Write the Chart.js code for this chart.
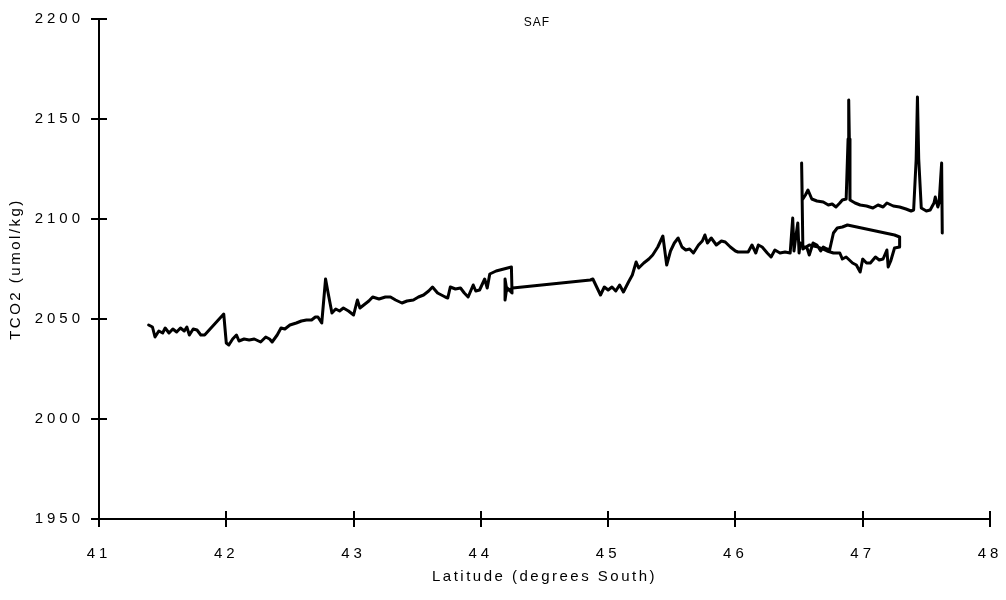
<!DOCTYPE html>
<html>
<head>
<meta charset="utf-8">
<title>TCO2 across the Subantarctic Front</title>
<script src="https://cdn.jsdelivr.net/npm/chart.js@4/dist/chart.umd.min.js"></script>
<style>
  html, body { margin: 0; padding: 0; background: #fff; }
  #wrap { width: 1006px; height: 600px; }
</style>
</head>
<body>
<div id="wrap"><canvas id="chart" width="1006" height="600"></canvas></div>
<script>
// Ship track samples, in the order they were taken
const latitude = [
  41.39, 41.42, 41.44, 41.47, 41.50, 41.52, 41.55, 41.58, 41.61, 41.64,
  41.67, 41.69, 41.71, 41.74, 41.77, 41.80, 41.83, 41.88, 41.93, 41.98,
  42.00, 42.02, 42.05, 42.08, 42.10, 42.14, 42.18, 42.22, 42.27, 42.31,
  42.34, 42.36, 42.40, 42.43, 42.46, 42.50, 42.55, 42.59, 42.63, 42.67,
  42.70, 42.72, 42.75, 42.78, 42.80, 42.83, 42.86, 42.89, 42.92, 42.96,
  43.00, 43.02, 43.03, 43.05, 43.08, 43.12, 43.15, 43.20, 43.25, 43.29,
  43.33, 43.38, 43.42, 43.47, 43.51, 43.55, 43.59, 43.62, 43.66, 43.69,
  43.72, 43.74, 43.76, 43.80, 43.84, 43.87, 43.90, 43.94, 43.96, 43.99,
  44.03, 44.05, 44.07, 44.12, 44.18, 44.24, 44.245, 44.20, 44.19, 44.19,
  44.20, 44.25, 44.86, 44.88, 44.91, 44.94, 44.97, 45.00, 45.03, 45.06,
  45.09, 45.12, 45.16, 45.19, 45.22, 45.24, 45.28, 45.32, 45.35, 45.39,
  45.43, 45.46, 45.49, 45.52, 45.55, 45.58, 45.61, 45.64, 45.67, 45.71,
  45.74, 45.76, 45.78, 45.81, 45.85, 45.89, 45.92, 45.96, 46.00, 46.02,
  46.06, 46.10, 46.13, 46.16, 46.18, 46.21, 46.25, 46.28, 46.31, 46.35,
  46.39, 46.43, 46.45, 46.46, 46.47, 46.49, 46.50, 46.51, 46.53, 46.56,
  46.58, 46.61, 46.64, 46.67, 46.69, 46.72, 46.74, 46.77, 46.80, 46.84,
  46.88, 47.25, 47.29, 47.29, 47.25, 47.22, 47.20, 47.19, 47.16, 47.13,
  47.10, 47.06, 47.03, 47.00, 46.98, 46.95, 46.92, 46.87, 46.84, 46.82,
  46.77, 46.72, 46.65, 46.58, 46.53, 46.52, 46.525, 46.55, 46.57, 46.60,
  46.64, 46.69, 46.73, 46.76, 46.79, 46.82, 46.84, 46.87, 46.885, 46.89,
  46.895, 46.90, 46.94, 46.98, 47.03, 47.08, 47.12, 47.16, 47.19, 47.24,
  47.29, 47.34, 47.38, 47.40, 47.42, 47.43, 47.44, 47.46, 47.50, 47.53,
  47.56, 47.57, 47.59, 47.60, 47.62, 47.625
];
const tco2 = [
  2047, 2046, 2041, 2044, 2043, 2045.5, 2043, 2045, 2043.5, 2045.5,
  2044, 2046, 2042, 2045, 2044.5, 2042, 2042, 2045.5, 2049, 2052.5,
  2038, 2037, 2040, 2042, 2039, 2040, 2039.5, 2040, 2038.5, 2041,
  2040, 2038.5, 2042, 2045.5, 2045, 2047, 2048, 2049, 2049.5, 2049.5,
  2051, 2051, 2048, 2070, 2063, 2053, 2055, 2054, 2055.5, 2054,
  2052, 2057, 2059.5, 2055.5, 2057, 2059, 2061, 2060, 2061, 2061,
  2059.5, 2058, 2059, 2059.5, 2061, 2062, 2064, 2066, 2063, 2062,
  2061, 2060.5, 2066, 2065, 2065.5, 2063, 2061, 2067, 2064, 2064.5,
  2070, 2065.5, 2072.5, 2074, 2075, 2076, 2063, 2066, 2070, 2059.5,
  2064, 2065.5, 2069.5, 2070, 2066, 2062, 2066, 2064.5, 2066, 2064,
  2067, 2063.5, 2068.5, 2072, 2078.5, 2075.5, 2078, 2080, 2082, 2086,
  2091.5, 2077, 2084, 2088, 2090.5, 2086, 2084.5, 2085, 2083, 2087,
  2089, 2092, 2088, 2090.5, 2087, 2089, 2088.5, 2086, 2084, 2083.5,
  2083.5, 2083.5, 2087, 2083, 2087, 2086, 2083, 2081, 2084.5, 2083,
  2083.5, 2083, 2100.5, 2084, 2089, 2098, 2083, 2088, 2086, 2086,
  2082, 2088, 2087, 2084, 2086, 2085, 2084.5, 2093, 2095.5, 2096,
  2097, 2092, 2091, 2086, 2085.5, 2079, 2076, 2084.5, 2080, 2079.5,
  2081, 2078, 2078, 2080, 2073.5, 2077, 2078, 2081, 2080, 2083,
  2083, 2084, 2086, 2087, 2085, 2128, 2109.5, 2112, 2114.5, 2110,
  2109, 2108.5, 2107, 2107.5, 2106, 2108, 2109.5, 2110, 2140, 2159.5,
  2140, 2109.5, 2108, 2107, 2106.5, 2105.5, 2107, 2106, 2108, 2106.5,
  2106, 2105, 2104, 2104.5, 2130, 2161, 2130, 2105.5, 2104, 2104.5,
  2108, 2111, 2106, 2108, 2128, 2093
];

// Axis tick values
const latitudeTicks = [41, 42, 43, 44, 45, 46, 47, 48];
const tco2Ticks = [1950, 2000, 2050, 2100, 2150, 2200];

// Front annotation
const frontLabel = 'SAF';
const frontLatitude = 44.44;
const frontTco2 = 2198;

const points = latitude.map((lat, i) => ({ x: lat, y: tco2[i] }));

const INK = '#000';
const FONT = '"Liberation Sans", Arial, Helvetica, sans-serif';

// Letter spacing: axis titles are drawn with the grid layer, tick labels
// (z = 1) after the datasets, so each gets its own tracking.
const tracking = {
  id: 'tracking',
  beforeDraw(chart) { chart.ctx.letterSpacing = '2.5px'; },
  afterDatasetsDraw(chart) { chart.ctx.letterSpacing = '4px'; },
  afterDraw(chart) { chart.ctx.letterSpacing = '0px'; }
};

// Tick marks that straddle the axis lines, plus the front label
const axisMarks = {
  id: 'axisMarks',
  afterDraw(chart) {
    const { ctx, chartArea, scales: { x, y } } = chart;
    const half = 8;
    ctx.save();
    ctx.strokeStyle = INK;
    ctx.lineWidth = 2;
    ctx.beginPath();
    x.ticks.forEach(t => {
      const px = Math.round(x.getPixelForValue(t.value));
      ctx.moveTo(px, chartArea.bottom - half);
      ctx.lineTo(px, chartArea.bottom + half);
    });
    y.ticks.forEach(t => {
      const py = Math.round(y.getPixelForValue(t.value));
      ctx.moveTo(chartArea.left - half, py);
      ctx.lineTo(chartArea.left + half, py);
    });
    ctx.stroke();

    ctx.fillStyle = INK;
    ctx.font = '12px ' + FONT;
    ctx.letterSpacing = '1px';
    ctx.textAlign = 'center';
    ctx.textBaseline = 'middle';
    ctx.fillText(frontLabel, x.getPixelForValue(frontLatitude), y.getPixelForValue(frontTco2));
    ctx.restore();
  }
};

// Fixed axis box sizes; label overhang must not shrink the plot area
function fixBox(scale, size) {
  if (scale.isHorizontal()) scale.height = size; else scale.width = size;
  scale.paddingLeft = 0;
  scale.paddingRight = 0;
  scale.paddingTop = 0;
  scale.paddingBottom = 0;
}

const plainNumber = v => String(v);

new Chart(document.getElementById('chart'), {
  type: 'line',
  data: {
    datasets: [{
      data: points,
      borderColor: INK,
      borderWidth: 3,
      borderJoinStyle: 'round',
      borderCapStyle: 'round',
      pointRadius: 0,
      tension: 0,
      fill: false
    }]
  },
  options: {
    responsive: false,
    animation: false,
    events: [],
    layout: { autoPadding: false, padding: { top: 19, right: 16, left: 0, bottom: 0 } },
    plugins: { legend: { display: false }, tooltip: { enabled: false }, title: { display: false } },
    scales: {
      x: {
        type: 'linear',
        min: 41, max: 48,
        afterBuildTicks(scale) { scale.ticks = latitudeTicks.map(v => ({ value: v })); },
        afterFit(scale) { fixBox(scale, 81); },
        grid: { display: false, drawTicks: false },
        border: { display: true, color: INK, width: 2 },
        ticks: { z: 1, color: INK, padding: 26, maxRotation: 0, callback: plainNumber, font: { family: FONT, size: 15 } },
        title: {
          display: true, text: 'Latitude (degrees South)', color: INK,
          font: { family: FONT, size: 15 }, padding: { top: 0, bottom: 14 }
        }
      },
      y: {
        type: 'linear',
        min: 1950, max: 2200,
        afterBuildTicks(scale) { scale.ticks = tco2Ticks.map(v => ({ value: v })); },
        afterFit(scale) { fixBox(scale, 99); },
        grid: { display: false, drawTicks: false },
        border: { display: true, color: INK, width: 2 },
        ticks: { z: 1, color: INK, padding: 15, callback: plainNumber, font: { family: FONT, size: 15 } },
        title: {
          display: true, text: 'TCO2 (umol/kg)', color: INK,
          font: { family: FONT, size: 15 }, padding: { top: 7, bottom: 0 }
        }
      }
    }
  },
  plugins: [tracking, axisMarks]
});
</script>
</body>
</html>
